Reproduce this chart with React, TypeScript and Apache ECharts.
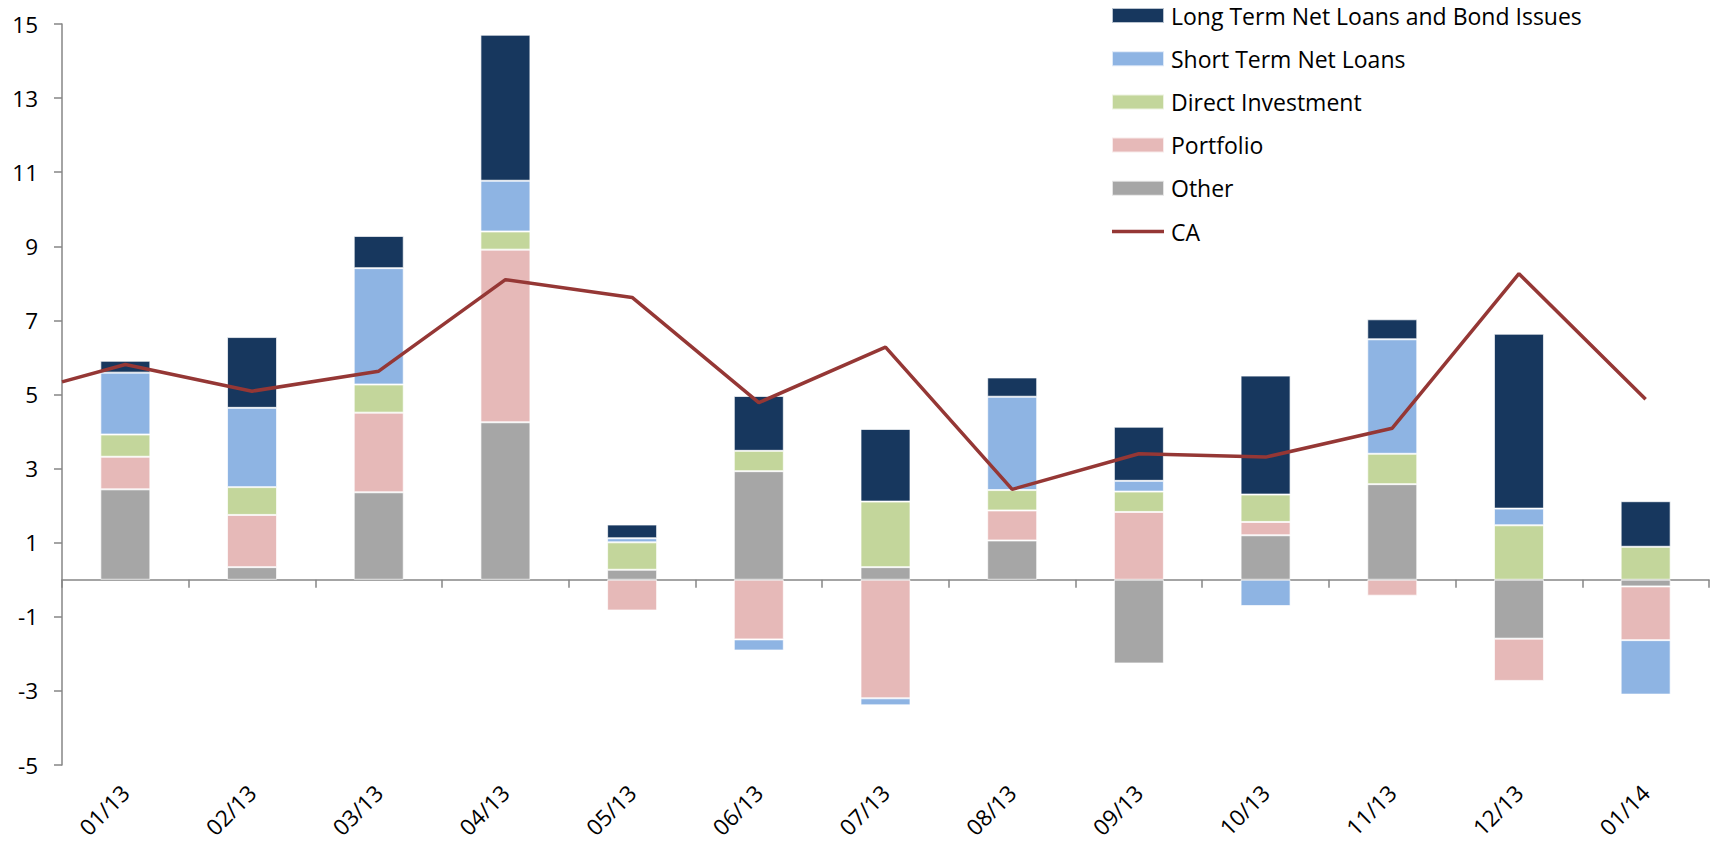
import React, { useEffect, useRef } from "react";
import * as echarts from "echarts";

const categories = ["01/13", "02/13", "03/13", "04/13", "05/13", "06/13", "07/13", "08/13", "09/13", "10/13", "11/13", "12/13", "01/14"];
const other = [2.44, 0.34, 2.36, 4.25, 0.27, 2.93, 0.34, 1.06, -2.26, 1.2, 2.58, -1.59, -0.18];
const portfolio = [0.88, 1.41, 2.15, 4.66, -0.83, -1.61, -3.2, 0.81, 1.83, 0.36, -0.43, -1.14, -1.45];
const directInvestment = [0.6, 0.75, 0.76, 0.49, 0.74, 0.55, 1.77, 0.55, 0.55, 0.74, 0.82, 1.47, 0.89];
const shortTerm = [1.67, 2.14, 3.14, 1.37, 0.11, -0.3, -0.19, 2.52, 0.29, -0.71, 3.09, 0.45, -1.47];
const longTerm = [0.32, 1.91, 0.87, 3.94, 0.37, 1.48, 1.96, 0.52, 1.46, 3.21, 0.54, 4.72, 1.23];
// CA line: first value is where the line enters at the left axis edge
const caStart = 5.34;
const ca = [5.81, 5.09, 5.63, 8.1, 7.62, 4.78, 6.28, 2.44, 3.4, 3.31, 4.09, 8.26, 4.87];
const yTicks = [-5, -3, -1, 1, 3, 5, 7, 9, 11, 13, 15];

const FONT = "Open Sans";

export default function App() {
  const ref = useRef<HTMLDivElement>(null);
  useEffect(() => {
    document.body.style.margin = "0";
    const chart = echarts.init(ref.current!, null, { renderer: "svg" });
    const barBase = {
      type: "bar",
      stack: "total",
      xAxisIndex: 0,
      yAxisIndex: 0,
      barWidth: 50,
      itemStyle: { borderColor: "rgba(255,255,255,0.7)", borderWidth: 1 },
    };
    const caData: number[][] = [[-0.5, caStart]].concat(ca.map((v, i) => [i, v]));
    chart.setOption({
      animation: false,
      textStyle: { fontFamily: FONT },
      grid: { left: 62, right: 2, top: 24, bottom: 82, containLabel: false },
      legend: {
        orient: "vertical",
        left: 1106,
        top: -1,
        itemWidth: 52,
        itemHeight: 15,
        itemGap: 20.2,
        textStyle: { fontSize: 23, color: "#000", fontFamily: FONT, lineHeight: 22.5, padding: [0, 0, 0, 2] },
        data: [
          { name: "Long Term Net Loans and Bond Issues", icon: "rect" },
          { name: "Short Term Net Loans", icon: "rect" },
          { name: "Direct Investment", icon: "rect" },
          { name: "Portfolio", icon: "rect" },
          { name: "Other", icon: "rect" },
          { name: "CA", icon: "path://M0 0H52V3.5H0Z" },
        ],
      },
      xAxis: [
        {
          type: "category",
          data: categories,
          position: "bottom",
          axisLine: { show: false, onZero: false },
          axisTick: { show: false },
          axisLabel: { rotate: 45, fontSize: 22.5, color: "#000", margin: 24, fontFamily: FONT },
        },
        {
          type: "category",
          data: categories,
          position: "bottom",
          axisLine: { show: true, onZero: true, lineStyle: { color: "#868686", width: 1.5 } },
          axisTick: { show: true, inside: false, length: 8, lineStyle: { color: "#868686", width: 1.5 } },
          axisLabel: { show: false },
        },
        {
          type: "value",
          min: -0.5,
          max: 12.5,
          show: false,
        },
      ],
      yAxis: {
        type: "value",
        min: -5,
        max: 15,
        splitLine: { show: false },
        axisLine: { show: true, onZero: false, lineStyle: { color: "#868686", width: 1.5 } },
        axisTick: { show: true, length: 8, customValues: yTicks, lineStyle: { color: "#868686", width: 1.5 } },
        axisLabel: { customValues: yTicks, fontSize: 22.5, color: "#000", margin: 24, fontFamily: FONT },
      },
      series: [
        { ...barBase, name: "Other", data: other, itemStyle: { ...barBase.itemStyle, color: "#A6A6A6" } },
        { ...barBase, name: "Portfolio", data: portfolio, itemStyle: { ...barBase.itemStyle, color: "#E6B9B8" } },
        { ...barBase, name: "Direct Investment", data: directInvestment, itemStyle: { ...barBase.itemStyle, color: "#C3D69B" } },
        { ...barBase, name: "Short Term Net Loans", data: shortTerm, itemStyle: { ...barBase.itemStyle, color: "#8EB4E3" } },
        { ...barBase, name: "Long Term Net Loans and Bond Issues", data: longTerm, itemStyle: { ...barBase.itemStyle, color: "#17375E" } },
        {
          type: "line",
          name: "CA",
          xAxisIndex: 2,
          yAxisIndex: 0,
          data: caData,
          symbol: "none",
          showSymbol: false,
          lineStyle: { color: "#953735", width: 3.5 },
          itemStyle: { color: "#953735" },
          z: 10,
        },
      ],
    });
    return () => chart.dispose();
  }, []);
  return <div ref={ref} style={{ width: 1711, height: 847 }} />;
}
